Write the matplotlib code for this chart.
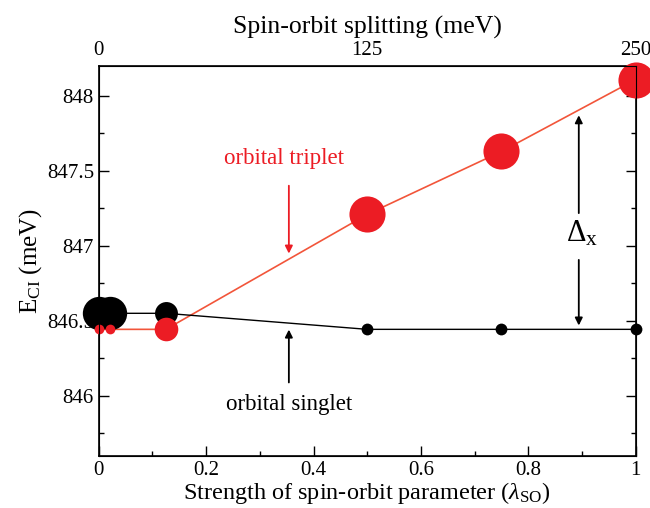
import matplotlib

matplotlib.use("Agg")
import matplotlib.pyplot as plt
from matplotlib.ticker import MultipleLocator

plt.rcParams["font.family"] = ["Liberation Serif", "DejaVu Serif"]
plt.rcParams["mathtext.fontset"] = "custom"
plt.rcParams["mathtext.rm"] = "Liberation Serif"
plt.rcParams["mathtext.it"] = "Liberation Serif:italic"

# data
lam_singlet = [0.0, 0.02, 0.125, 0.5, 0.75, 1.0]
e_singlet = [846.55, 846.55, 846.55, 846.443, 846.443, 846.443]
lam_triplet = [0.0, 0.02, 0.125, 0.5, 0.75, 1.0]
e_triplet = [846.443, 846.443, 846.443, 847.21, 847.63, 848.11]
top_tick_pos = [0.0, 0.5, 1.0]
top_tick_labels = ["0", "125", "250"]

# marker diameters (points) per point, just styling
singlet_ms = [24, 24, 16.5, 8.5, 8.5, 8.5]
triplet_ms = [7, 7, 17, 26, 26, 26]

BLACK = "black"
RED_LINE = "#f2553a"
RED_DOT = "#ec1c24"

fig = plt.figure(figsize=(6.5, 5.08), dpi=100)
ax = fig.add_axes([0.152, 0.103, 0.826, 0.767])

ax.plot(lam_triplet, e_triplet, color=RED_LINE, lw=1.2, zorder=2)
ax.plot(lam_singlet, e_singlet, color=BLACK, lw=1.0, zorder=2)
for x, y, ms in zip(lam_singlet, e_singlet, singlet_ms):
    ax.plot(x, y, "o", color=BLACK, ms=ms, mec="none", zorder=3, clip_on=False)
for x, y, ms in zip(lam_triplet, e_triplet, triplet_ms):
    ax.plot(x, y, "o", color=RED_DOT, ms=ms, mec="none", zorder=4, clip_on=False)

ax.set_xlim(0, 1)
ax.set_ylim(845.6, 848.2)
ax.xaxis.set_minor_locator(MultipleLocator(0.1))
ax.yaxis.set_minor_locator(MultipleLocator(0.25))
ax.set_xticks([0, 0.2, 0.4, 0.6, 0.8, 1.0])
ax.set_xticklabels(["0", "0.2", "0.4", "0.6", "0.8", "1"])
ax.set_yticks([846, 846.5, 847, 847.5, 848])
ax.set_yticklabels(["846", "846.5", "847", "847.5", "848"])
ax.tick_params(which="both", direction="in", top=True, right=True, labelsize=15)
ax.tick_params(which="major", length=7, width=1)
ax.tick_params(which="minor", length=3.5, width=1)
for sp in ax.spines.values():
    sp.set_linewidth(1.2)

ax.set_xlabel(r"Strength of spin-orbit parameter ($\lambda_{\rm SO}$)", fontsize=17.5, labelpad=0)
ax.set_ylabel(r"E$_{\rm CI}$ (meV)", fontsize=18, labelpad=2)

top = ax.twiny()
top.set_xlim(ax.get_xlim())
top.set_xticks(top_tick_pos)
top.set_xticklabels(top_tick_labels)
top.tick_params(length=0, labelsize=15, pad=4)
top.set_xlabel("Spin-orbit splitting (meV)", fontsize=18.5, labelpad=6)

ax.text(0.345, 847.585, "orbital triplet", color=RED_DOT, fontsize=16.5, ha="center", va="center")
ax.annotate("", xy=(0.354, 846.93), xytext=(0.354, 847.42),
            arrowprops=dict(arrowstyle="-|>", color=RED_DOT, lw=1.3, mutation_scale=11))
ax.text(0.354, 845.94, "orbital singlet", color=BLACK, fontsize=16.5, ha="center", va="center")
ax.annotate("", xy=(0.354, 846.46), xytext=(0.354, 846.07),
            arrowprops=dict(arrowstyle="-|>", color=BLACK, lw=1.3, mutation_scale=11))
ax.text(0.9, 847.08, r"$\Delta_{\rm x}$", fontsize=22, ha="center", va="center")
ax.annotate("", xy=(0.894, 847.89), xytext=(0.894, 847.2),
            arrowprops=dict(arrowstyle="-|>", color=BLACK, lw=1.3, mutation_scale=11))
ax.annotate("", xy=(0.894, 846.45), xytext=(0.894, 846.925),
            arrowprops=dict(arrowstyle="-|>", color=BLACK, lw=1.3, mutation_scale=11))

fig.savefig("out.png", dpi=100)
